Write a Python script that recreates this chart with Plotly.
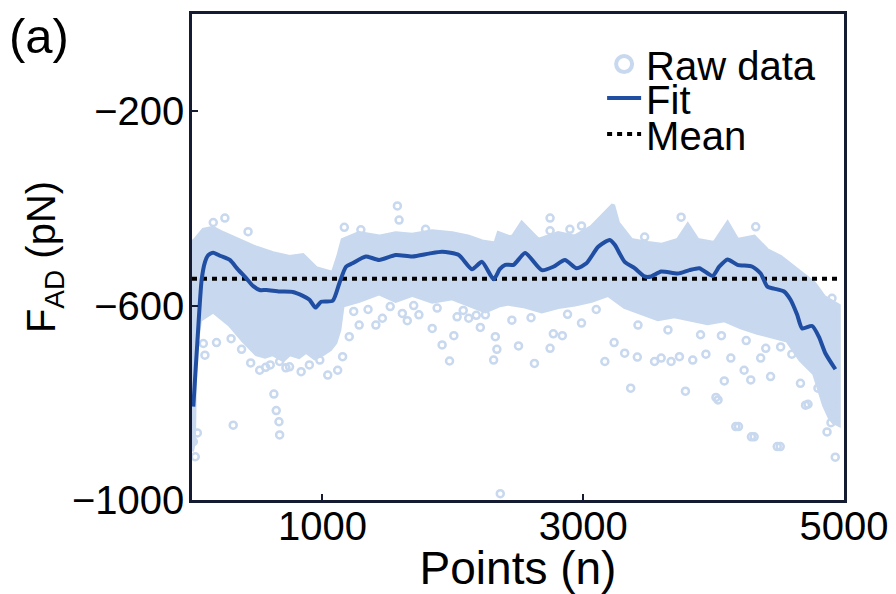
import plotly.graph_objects as go

# ---------------- data ----------------
fit_x = [10, 40, 74, 100, 125, 163, 220, 290, 350, 417, 470, 519, 570, 672, 773,
         850, 901, 947, 990, 1079, 1130, 1181, 1231, 1333, 1435, 1562, 1689, 1817,
         1918, 2046, 2147, 2224, 2313, 2360, 2402, 2466, 2555, 2682, 2771, 2860,
         2949, 3025, 3115, 3204, 3242, 3318, 3394, 3471, 3521, 3598, 3725, 3814,
         3891, 3992, 4043, 4107, 4183, 4298, 4361, 4412, 4463, 4540, 4590, 4641,
         4679, 4756, 4807, 4857, 4934]
fit_y = [-808, -680, -547, -510, -496, -491, -498, -506, -525, -544, -560, -568, -568, -571, -572,
         -580, -588, -604, -592, -590, -554, -520, -513, -499, -506, -496, -499, -493,
         -489, -496, -525, -510, -546, -525, -516, -516, -492, -527, -520, -506,
         -523, -513, -479, -465, -475, -510, -523, -540, -540, -530, -534, -527,
         -523, -539, -520, -505, -516, -520, -534, -561, -565, -571, -588, -619,
         -647, -642, -664, -698, -731]

mean_value = -545
mean_x = [0, 4950]

# dense core of the raw-data cloud: upper and lower envelopes
cloud_upper_x = [0, 23, 87, 160, 239, 366, 494, 620, 748, 850, 952, 1079, 1120, 1155,
                 1282, 1435, 1562, 1689, 1842, 1995, 2122, 2224, 2326, 2351, 2453, 2529,
                 2656, 2809, 2936, 3064, 3166, 3229, 3267, 3369, 3496, 3598, 3725, 3802,
                 3878, 4006, 4107, 4183, 4311, 4412, 4514, 4641, 4771, 4847, 4924, 4960]
cloud_upper_y = [-470, -465, -444, -440, -451, -465, -481, -492, -500, -496, -523, -533, -500, -465,
                 -451, -458, -451, -454, -447, -451, -458, -468, -472, -451, -461, -430,
                 -465, -451, -458, -438, -409, -393, -430, -465, -471, -475, -465, -434,
                 -465, -471, -430, -465, -458, -486, -500, -527, -554, -582, -595, -600]
cloud_lower_x = [0, 15, 25, 61, 163, 290, 392, 494, 560, 620, 700, 748, 820, 875, 940, 1003,
                 1060, 1100, 1130, 1155, 1282, 1435, 1562, 1689, 1842, 1995, 2122, 2250,
                 2351, 2427, 2555, 2682, 2809, 2936, 3064, 3191, 3318, 3445, 3573, 3700,
                 3827, 3954, 4081, 4209, 4336, 4438, 4565, 4666, 4771, 4847, 4893, 4924, 4960]
cloud_lower_y = [-900, -880, -700, -630, -612, -640, -672, -700, -705, -700, -712, -700, -706, -695,
                 -708, -700, -690, -676, -650, -600, -590, -575, -590, -578, -592, -585, -598, -612,
                 -600, -596, -602, -612, -603, -598, -590, -578, -603, -615, -628, -622,
                 -630, -636, -630, -645, -656, -664, -672, -712, -740, -805, -832, -840, -845]

# individual raw-data points lying outside the dense core
raw_x = [163, 252, 430, 1168, 1575, 1588, 1295, 1791, 2453,
         87, 188, 99, 316, 628, 646, 667, 672, 519, 565, 672, 748, 837, 1041, 1117,
         1155, 1206, 1282, 1410, 1460, 1651, 1613, 1740, 1842, 1918, 1975, 2008, 2033,
         2122, 2211, 2250, 2313, 2338, 2326, 2453,
         25, 41, 10, 2364, 4191, 4311, 4511, 4724, 4900, 4916, 4900, 4931, 4933, 4034,
         2746, 2746, 2987, 2898, 3751, 4323, 3471,
         2504, 2626, 2746, 2771, 2840, 2987, 3166, 3237, 3318, 3364, 3415, 3547, 3598,
         3674, 3738, 3784, 3840, 3941, 4018, 4082, 4132, 4170, 4234, 4285, 4290, 4361,
         4437, 4488, 4514, 4666, 4705, 4908,
         300, 380, 450, 600, 720, 900, 980, 1240, 1350, 1520, 1700, 1880, 2080, 2180,
         2600, 2880, 3100, 3420, 3650, 3900, 4060, 4250, 4400, 4600, 4800, 4870]
raw_y = [-429, -420, -448, -439, -395, -424, -444, -443, -464,
         -678, -676, -702, -846, -782, -816, -839, -866, -733, -727, -715, -726, -736, -743, -733,
         -705, -664, -640, -640, -626, -631, -616, -619, -647, -681, -714, -662, -623,
         -626, -645, -619, -712, -690, -664, -630,
         -911, -862, -880, -987, -849, -870, -890, -803, -805, -825, -841, -835, -912, -794,
         -420, -446, -436, -443, -418, -438, -459,
         -683, -719, -688, -658, -662, -636, -715, -676, -698, -770, -706, -715, -708,
         -715, -705, -776, -712, -700, -789, -755, -708, -849, -733, -753, -870, -708,
         -746, -890, -685, -760, -805, -585,
         -668, -690, -718, -722, -728, -722, -712, -612, -608, -602, -600, -605, -610, -620,
         -625, -618, -608, -640, -650, -660, -662, -672, -688, -700, -770, -860]

x_ticks = [1000, 3000, 5000]
y_ticks = [-200, -600, -1000]
y_tick_text = ["\u2212200", "\u2212600", "\u22121000"]

# ---------------- styling ----------------
CLOUD = "#c8d8ee"
FIT = "#1f4ea3"
AXIS = "#151b30"
FONT = "Liberation Sans, Arial, sans-serif"
FS_TICK = 40
FS_LEG = 40

fig = go.Figure()

# dense cloud core as a filled polygon built from the envelopes
poly_x = cloud_upper_x + cloud_lower_x[::-1]
poly_y = cloud_upper_y + cloud_lower_y[::-1]
fig.add_trace(go.Scatter(x=poly_x, y=poly_y, mode="lines", fill="toself",
                         fillcolor=CLOUD, line=dict(color=CLOUD, width=4),
                         showlegend=False, hoverinfo="skip"))

fig.add_trace(go.Scatter(x=raw_x, y=raw_y, mode="markers", showlegend=False,
                         marker=dict(symbol="circle-open", size=7, color=CLOUD,
                                     line=dict(width=2.5, color=CLOUD))))

# legend-only entry for the raw data
fig.add_trace(go.Scatter(x=[None], y=[None], mode="markers", name="Raw data",
                         legend="legend",
                         marker=dict(symbol="circle-open", size=18, color=CLOUD,
                                     line=dict(width=4, color=CLOUD))))

fig.add_trace(go.Scatter(x=mean_x, y=[mean_value] * len(mean_x), mode="lines",
                         name="Mean", legend="legend3",
                         line=dict(color="black", width=4, dash="5px,5px")))

fig.add_trace(go.Scatter(x=fit_x, y=fit_y, mode="lines", name="Fit",
                         legend="legend2",
                         line=dict(color=FIT, width=4, shape="spline", smoothing=0.6)))

leg_common = dict(xanchor="left", yanchor="middle", bgcolor="rgba(0,0,0,0)",
                  borderwidth=0, font=dict(family=FONT, size=FS_LEG, color="black"),
                  itemwidth=34)

# page body adds an 8px margin, so the figure is drawn 8px smaller and offset
fig.update_layout(
    width=888, height=586,
    margin=dict(l=184, r=52, t=6, b=94),
    paper_bgcolor="white", plot_bgcolor="white",
    font=dict(family=FONT, size=FS_TICK, color="black"),
    legend=dict(x=0.629, y=0.897, **leg_common),
    legend2=dict(x=0.629, y=0.827, **leg_common),
    legend3=dict(x=0.629, y=0.753, **leg_common),
    xaxis=dict(range=[0, 5000], tickvals=x_ticks, ticks="inside", ticklen=6,
               tickwidth=2, tickcolor=AXIS, showline=True, linecolor=AXIS,
               linewidth=2.5, mirror=True, showgrid=False, zeroline=False,
               automargin=False, ticklabelstandoff=-11,
               title=dict(text="Points (n)", standoff=4,
                          font=dict(family=FONT, size=46))),
    yaxis=dict(range=[-1000, 0], tickvals=y_ticks, ticktext=y_tick_text,
               ticks="inside", ticklen=6, tickwidth=2, tickcolor=AXIS,
               showline=True, linecolor=AXIS, linewidth=2.5, mirror=True,
               showgrid=False, zeroline=False, automargin=False,
               ticklabelstandoff=-3,
               title=dict(text="F<sub>AD</sub> (pN)", standoff=4,
                          font=dict(family=FONT, size=40))),
    annotations=[dict(text="(a)", xref="paper", yref="paper", x=-0.235, y=0.954,
                      xanchor="center", yanchor="middle", showarrow=False,
                      font=dict(family=FONT, size=49, color="black"))],
)

fig.write_html("out.html")
